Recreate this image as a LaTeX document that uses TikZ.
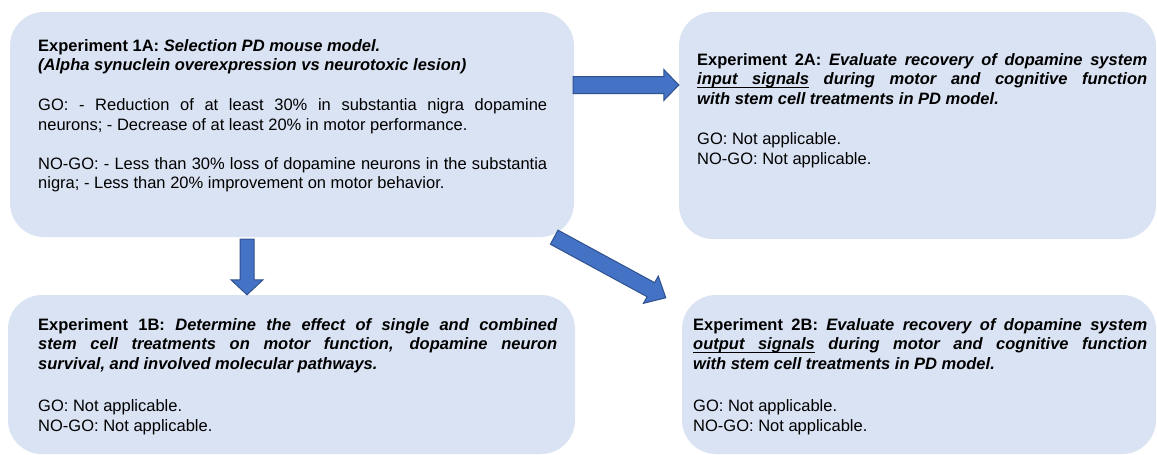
\documentclass[tikz,border=0pt]{standalone}
\usepackage{fontspec}
\setmainfont{Liberation Sans}
\usetikzlibrary{calc}
\definecolor{boxfill}{HTML}{DAE3F3}
\definecolor{arrfill}{HTML}{4472C4}
\definecolor{arrline}{HTML}{2F528F}
\newsavebox\myulbox
\newcommand\ulword[1]{\sbox\myulbox{#1}\rlap{\rule[-3pt]{\wd\myulbox}{1.1pt}}\usebox\myulbox}
\newcommand\ulspace{\leaders\hrule height -1.9pt depth 3pt\hskip\fontdimen2\font plus\fontdimen3\font minus\fontdimen4\font\relax}
\tikzset{
  expbox/.style={fill=boxfill, draw=none, rounded corners=34pt, inner sep=0pt},
  exptext/.style={anchor=north west, inner sep=0pt, align=justify,
    font=\fontsize{16.5}{19.7}\selectfont},
  blockarrow/.style={fill=arrfill, draw=arrline, line width=1pt, line join=miter},
}
\newcommand\blockarr[5]{%
  \path ($(#2)!#5!(#1)$) coordinate (hb);
  \draw[blockarrow] ($(#1)!#3!90:(#2)$) -- ($(hb)!#3!90:(#2)$) -- ($(hb)!#4!90:(#2)$)
    -- (#2) -- ($(hb)!#4!-90:(#2)$) -- ($(hb)!#3!-90:(#2)$) -- ($(#1)!#3!-90:(#2)$) -- cycle;}
\begin{document}
\begin{tikzpicture}[x=1pt, y=-1pt]
\fill[white] (0,0) rectangle (1157,455);
\useasboundingbox (0,0) rectangle (1157,455);

% boxes
\node[expbox, minimum width=564pt, minimum height=225pt] (A1) at (292,124.5) {};
\node[expbox, minimum width=477pt, minimum height=227pt] (A2) at (917.5,125.5) {};
\node[expbox, minimum width=567pt, minimum height=159pt] (B1) at (291.5,374.5) {};
\node[expbox, minimum width=474pt, minimum height=159pt] (B2) at (919,374.5) {};

% texts
\node[exptext, text width=509pt] (A1t) at (38,37.2) {%
\strut\textbf{Experiment 1A: \textit{Selection PD mouse model.}}\\
\textbf{\textit{(Alpha synuclein overexpression vs neurotoxic lesion)}}\par\vspace{19.8pt}
GO: - Reduction of at least 30\% in substantia nigra dopamine\linebreak
neurons; - Decrease of at least 20\% in motor performance.\par\vspace{19.5pt}
NO-GO: - Less than 30\% loss of dopamine neurons in the substantia\linebreak
nigra; - Less than 20\% improvement on motor behavior.};

\node[exptext, text width=450pt] (A2t) at (697,51.2) {%
\strut\textbf{Experiment 2A: \textit{Evaluate recovery of dopamine system\linebreak
\ulword{input}\ulspace\ulword{signals} during motor and cognitive function\linebreak
with stem cell treatments in PD model.}}\par\vspace{20.3pt}
GO: Not applicable.\\
NO-GO: Not applicable.};

\node[exptext, text width=519pt] (B1t) at (38,316.2) {%
\strut\textbf{Experiment 1B: \textit{Determine the effect of single and combined\linebreak
stem cell treatments on motor function, dopamine neuron\linebreak
survival, and involved molecular pathways.}}\par\vspace{22.3pt}
GO: Not applicable.\\
NO-GO: Not applicable.};

\node[exptext, text width=454pt] (B2t) at (693,316.2) {%
\strut\textbf{Experiment 2B: \textit{Evaluate recovery of dopamine system\linebreak
\ulword{output}\ulspace\ulword{signals} during motor and cognitive function\linebreak
with stem cell treatments in PD model.}}\par\vspace{22.3pt}
GO: Not applicable.\\
NO-GO: Not applicable.};

% arrows
\coordinate (r0) at ([xshift=-1pt,yshift=39.5pt]A1.east);
\coordinate (r1) at ([yshift=40.5pt]A2.west);
\blockarr{r0}{r1}{8.5pt}{15.5pt}{15pt}

\coordinate (d0) at ([xshift=-45pt,yshift=-2pt]A1.south);
\coordinate (d1) at ([xshift=-44.5pt]B1.north);
\blockarr{d0}{d1}{7pt}{16pt}{15pt}

\coordinate (g0) at ([xshift=-20pt]A1.south east);
\coordinate (g1) at ([xshift=-16pt,yshift=-3pt]B2.north west);
\blockarr{g0}{g1}{8pt}{15.5pt}{17pt}
\end{tikzpicture}
\end{document}
